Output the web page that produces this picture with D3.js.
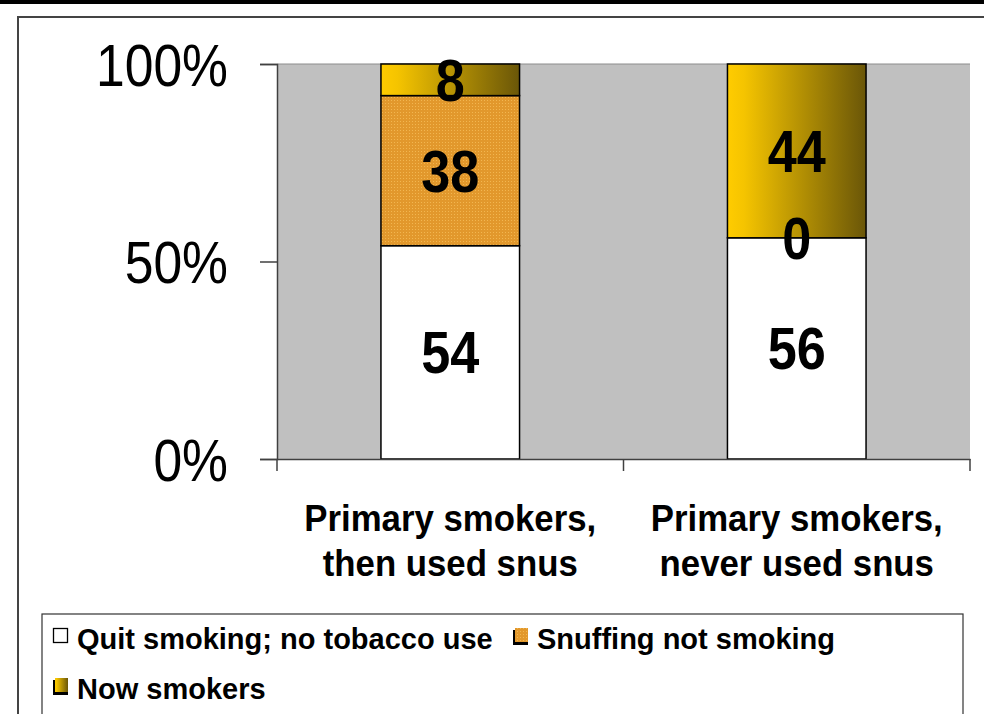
<!DOCTYPE html>
<html>
<head>
<meta charset="utf-8">
<script src="https://cdn.jsdelivr.net/npm/d3@7"></script>
<style>
  html, body { margin: 0; padding: 0; background: #fff; }
  svg { display: block; }
  text { font-family: Arial, "Liberation Sans", sans-serif; fill: #000; }
</style>
</head>
<body>
<div id="chart"></div>
<script>
// ---- data ----
const categories = ["Primary smokers, then used snus", "Primary smokers, never used snus"];
const categoryLines = [["Primary smokers,", "then used snus"], ["Primary smokers,", "never used snus"]];
const seriesNames = ["Quit smoking; no tobacco use", "Snuffing not smoking", "Now smokers"];
const quitValues = [54, 56];
const snuffValues = [38, 0];
const nowValues = [8, 44];
const yTicks = [0, 50, 100];

const W = 984, H = 714;
const svg = d3.select("#chart").append("svg").attr("width", W).attr("height", H);
const defs = svg.append("defs");

// gradient for "Now smokers"
const grad = defs.append("linearGradient").attr("id", "gradNow")
  .attr("x1", "0%").attr("x2", "100%").attr("y1", "0%").attr("y2", "0%");
grad.append("stop").attr("offset", "0%").attr("stop-color", "#FFCC00");
grad.append("stop").attr("offset", "12%").attr("stop-color", "#F5C400");
grad.append("stop").attr("offset", "100%").attr("stop-color", "#6A5608");

// dotted pattern for "Snuffing"
const pat = defs.append("pattern").attr("id", "patSnuff")
  .attr("width", 3).attr("height", 3).attr("patternUnits", "userSpaceOnUse");
pat.append("rect").attr("width", 3).attr("height", 3).attr("fill", "#E2982C");
pat.append("rect").attr("x", 1).attr("y", 1).attr("width", 1).attr("height", 1).attr("fill", "#F2B650");

const fills = ["#FFFFFF", "url(#patSnuff)", "url(#gradNow)"];

// top black rule and outer frame
svg.append("rect").attr("x", 0).attr("y", 0).attr("width", W).attr("height", 4).attr("fill", "#000");
svg.append("path").attr("d", `M18,${H + 5} L18,17 L${W + 5},17`)
  .attr("fill", "none").attr("stroke", "#444").attr("stroke-width", 2);

// scales
const plotL = 277, plotR = 970, plotT = 64, plotB = 459;
const x = d3.scaleBand().domain(categories).range([plotL, plotR]).paddingInner(0.6).paddingOuter(0.3);
const y = d3.scaleLinear().domain([0, 100]).range([plotB, plotT]);

// plot background
svg.append("rect").attr("x", plotL).attr("y", plotT).attr("width", plotR - plotL).attr("height", plotB - plotT)
  .attr("fill", "#C0C0C0");
svg.append("line").attr("x1", plotL).attr("x2", plotR).attr("y1", plotT).attr("y2", plotT)
  .attr("stroke", "#8C8C8C").attr("stroke-width", 1);

// stack
const rows = categories.map((c, i) => ({ cat: c, q: quitValues[i], s: snuffValues[i], n: nowValues[i] }));
const stack = d3.stack().keys(["q", "s", "n"])(rows);

const g = svg.append("g");
stack.forEach((layer, li) => {
  g.selectAll(null).data(layer).enter().append("rect")
    .attr("x", d => x(d.data.cat))
    .attr("width", x.bandwidth())
    .attr("y", d => y(d[1]))
    .attr("height", d => y(d[0]) - y(d[1]))
    .attr("fill", fills[li])
    .attr("stroke", "#000").attr("stroke-width", 1.5);
});

// value labels
stack.forEach((layer, li) => {
  g.selectAll(null).data(layer).enter().append("text")
    .attr("transform", d => `translate(${x(d.data.cat) + x.bandwidth() / 2},${y((d[0] + d[1]) / 2) + 21}) scale(0.87,1)`)
    .attr("text-anchor", "middle")
    .attr("font-size", 60).attr("font-weight", "bold")
    .text(d => d[1] - d[0]);
});

// y axis
const yAxis = svg.append("g").attr("transform", `translate(${plotL},0)`)
  .call(d3.axisLeft(y).tickValues(yTicks).tickSize(17).tickFormat(d => d + "%"));
yAxis.select(".domain").attr("stroke", "#404040").attr("stroke-width", 1.5);
yAxis.selectAll(".tick line").attr("stroke", "#404040").attr("stroke-width", 1.5);
yAxis.selectAll(".tick text")
  .attr("x", null).attr("dy", null)
  .attr("transform", "translate(-49,21) scale(0.89,1.02)")
  .attr("text-anchor", "end")
  .attr("font-size", 58).attr("font-family", "Arial, 'Liberation Sans', sans-serif")
  .attr("fill", "#000");

// x axis
const xAxis = svg.append("g").attr("transform", `translate(0,${plotB})`)
  .call(d3.axisBottom(x).tickSize(0).tickFormat(""));
xAxis.select(".domain").attr("stroke", "#404040").attr("stroke-width", 1.5);
const bounds = [plotL].concat(categories.map(c => x(c) - x.step() * x.paddingInner() / 2 + x.step()));
bounds[bounds.length - 1] = plotR;
xAxis.selectAll(".sep").data(bounds).enter().append("line")
  .attr("x1", d => d).attr("x2", d => d).attr("y1", 0).attr("y2", 12)
  .attr("stroke", "#404040").attr("stroke-width", 1.5);

// category labels
categories.forEach((c, i) => {
  categoryLines[i].forEach((ln, j) => {
    svg.append("text")
      .attr("transform", `translate(${x(c) + x.bandwidth() / 2},${531 + j * 45}) scale(0.94,1)`)
      .attr("text-anchor", "middle")
      .attr("font-size", 37).attr("font-weight", "bold")
      .text(ln);
  });
});

// legend
svg.append("rect").attr("x", 42).attr("y", 614).attr("width", 921).attr("height", 120)
  .attr("fill", "#fff").attr("stroke", "#333").attr("stroke-width", 1.2);
const legendPos = [[53, 649], [513, 649], [53, 699]];
seriesNames.forEach((name, i) => {
  const [lx, ly] = legendPos[i];
  if (i > 0) {
    svg.append("rect").attr("x", lx).attr("y", ly - 19).attr("width", 15).attr("height", 15).attr("fill", "#000");
    svg.append("rect").attr("x", lx + 2).attr("y", ly - 21).attr("width", 13).attr("height", 14)
      .attr("fill", fills[i]);
  } else {
    svg.append("rect").attr("x", lx + 0.5).attr("y", ly - 20.5).attr("width", 14).attr("height", 14)
      .attr("fill", fills[i]).attr("stroke", "#000").attr("stroke-width", 1.3);
  }
  svg.append("text").attr("x", lx + 24).attr("y", ly)
    .attr("font-size", 29).attr("font-weight", "bold").text(name);
});
</script>
</body>
</html>
